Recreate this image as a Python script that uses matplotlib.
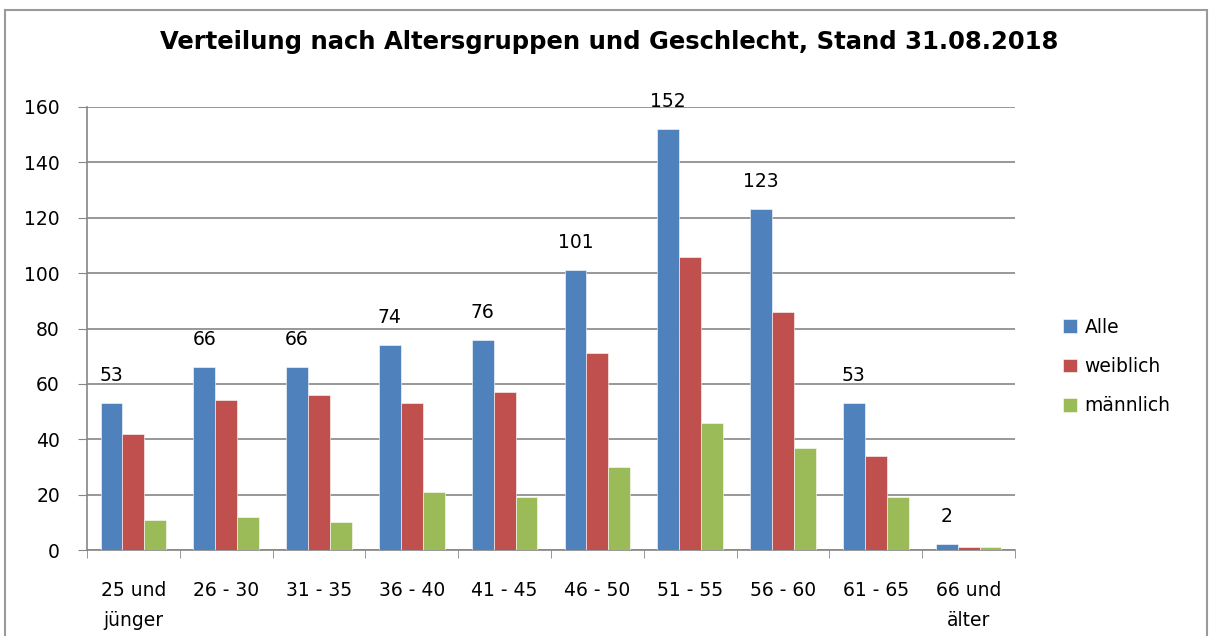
import matplotlib
matplotlib.use("Agg")
import matplotlib.pyplot as plt
import numpy as np
from matplotlib.patches import Rectangle

categories = ["25 und\njünger", "26 - 30", "31 - 35", "36 - 40", "41 - 45",
              "46 - 50", "51 - 55", "56 - 60", "61 - 65", "66 und\nälter"]
alle = [53, 66, 66, 74, 76, 101, 152, 123, 53, 2]
weiblich = [42, 54, 56, 53, 57, 71, 106, 86, 34, 1]
maennlich = [11, 12, 10, 21, 19, 30, 46, 37, 19, 1]
series_names = ["Alle", "weiblich", "männlich"]
colors = ["#4F81BD", "#C0504D", "#9BBB59"]
yticks = [0, 20, 40, 60, 80, 100, 120, 140, 160]

FS = 13.5
W, H = 1213, 636
fig = plt.figure(figsize=(W / 100, H / 100), dpi=100)
fig.patch.set_facecolor("white")
ax = fig.add_axes([87 / W, 1 - 550 / H, (1015 - 87) / W, (550 - 107) / H])

x = np.arange(len(categories))
bw = 0.236
for i, (vals, c, name) in enumerate(zip([alle, weiblich, maennlich], colors, series_names)):
    ax.bar(x + (i - 1) * bw, vals, width=bw, color=c, edgecolor="#ffffff",
           linewidth=0.4, label=name, zorder=3)

for xi, v in zip(x, alle):
    ax.text(xi - bw, v + 6.5, str(v), ha="center", va="bottom", fontsize=FS,
            color="#000000")

ax.set_xlim(-0.5, len(categories) - 0.5)
ax.set_ylim(0, 160)
ax.set_yticks(yticks)
ax.set_yticklabels([str(t) for t in yticks], fontsize=FS)
ax.yaxis.grid(True, color="#868686", linewidth=1.2, zorder=0)
ax.set_axisbelow(True)

ax.set_xticks(x)
ax.set_xticklabels(categories, fontsize=FS, linespacing=1.75, va="top")
ax.set_xticks(np.arange(-0.5, len(categories), 1.0), minor=True)
ax.tick_params(axis="x", which="major", length=0, pad=22)
ax.tick_params(axis="x", which="minor", length=6, color="#868686", direction="out")
ax.tick_params(axis="y", length=6.5, color="#868686", direction="out", pad=13)

for s in ["top", "right"]:
    ax.spines[s].set_visible(False)
for s in ["left", "bottom"]:
    ax.spines[s].set_color("#868686")
    ax.spines[s].set_linewidth(1.2)

fig.text(609 / W, 1 - 42 / H, "Verteilung nach Altersgruppen und Geschlecht, Stand 31.08.2018",
         ha="center", va="center", fontsize=17.5, fontweight="bold")

leg = fig.legend(loc="upper left", bbox_to_anchor=(1046 / W, 1 - 301 / H),
                 frameon=False, fontsize=FS, handlelength=0.75, handleheight=0.75,
                 handletextpad=0.4, labelspacing=1.08)

fig.add_artist(Rectangle((5 / W, -0.05), 1202 / W, 1.05 - 10 / H, transform=fig.transFigure,
                         fill=False, edgecolor="#9a9a9a", linewidth=1.5))

fig.savefig("out.png", dpi=100)
